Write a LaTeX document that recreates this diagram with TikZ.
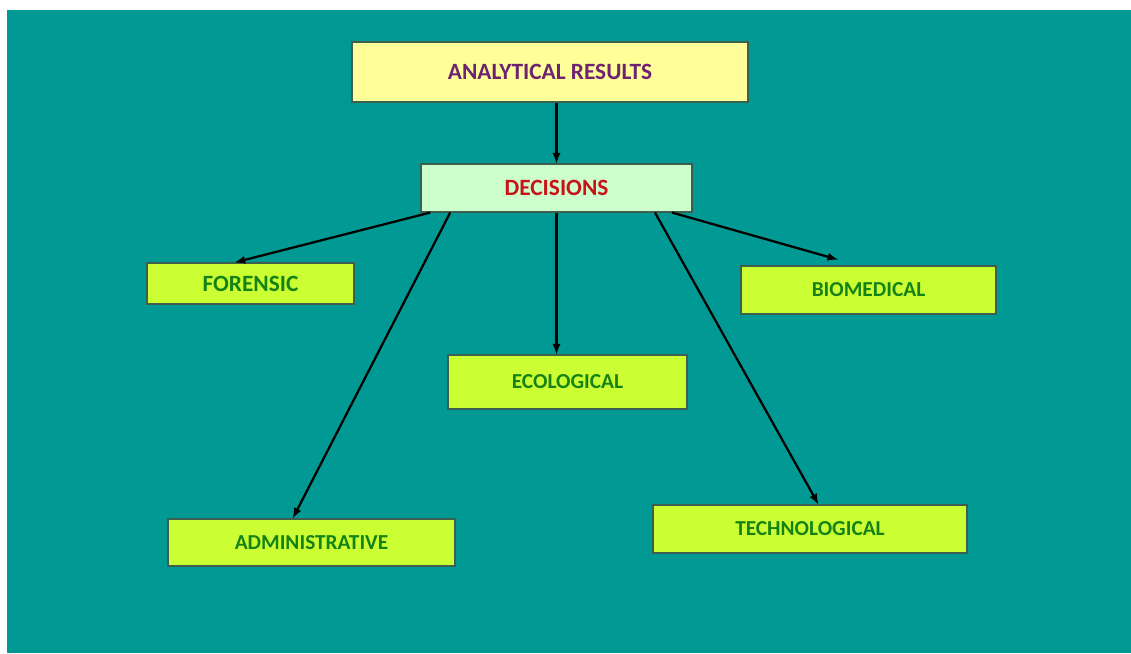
\documentclass[tikz,border=0pt]{standalone}
\usepackage{fontspec}
\setmainfont{Carlito}
\usepackage{xcolor}
\usetikzlibrary{arrows, positioning}

\definecolor{slideteal}{RGB}{0,153,148}
\definecolor{paleyellow}{RGB}{255,255,153}
\definecolor{palegreen}{RGB}{204,255,204}
\definecolor{limegreen}{RGB}{204,255,51}
\definecolor{boxline}{RGB}{60,95,80}
\definecolor{purpletext}{RGB}{110,35,110}
\definecolor{redtext}{RGB}{200,20,25}
\definecolor{greentext}{RGB}{20,130,20}

\tikzset{
    box/.style={draw=boxline, line width=0.8pt, inner sep=0pt, font=\bfseries},
    areabox/.style={box, fill=limegreen, text=greentext, font=\bfseries\fontsize{16}{18}\selectfont},
    link/.style={-latex, line width=1.7pt, black}
}

\begin{document}
\begin{tikzpicture}[x=0.75pt, y=-0.75pt]
                        % page and slide background
                        \fill[white] (0,0) rectangle (1131,653);
                        \fill[slideteal] (7,10) rectangle (1131,653);
                        \useasboundingbox (0,0) rectangle (1131,653);

                        \node[box, fill=paleyellow, text=purpletext, minimum width=297pt, minimum height=45pt,
                              font=\bfseries\fontsize{17.5}{20}\selectfont] (res) at (550,72) {ANALYTICAL RESULTS};
                        \node[box, fill=palegreen, text=redtext, minimum width=203.25pt, minimum height=36pt,
                              font=\bfseries\fontsize{17.5}{20}\selectfont] (dec) at (556.5,188) {DECISIONS};

                        \node[areabox, minimum width=155.25pt, minimum height=30.75pt,
                              font=\bfseries\fontsize{17.5}{20}\selectfont] (for) at (250.5,283.5) {FORENSIC};
                        \node[areabox, minimum width=191.25pt, minimum height=36pt] (bio) at (868.5,290) {BIOMEDICAL};
                        \node[areabox, minimum width=179.25pt, minimum height=40.5pt] (eco) at (567.5,382) {ECOLOGICAL};
                        \node[areabox, minimum width=215.25pt, minimum height=35.25pt] (adm) at (311.5,542.5) {ADMINISTRATIVE};
                        \node[areabox, minimum width=235.5pt, minimum height=36pt] (tec) at (810,529) {TECHNOLOGICAL};

                        \draw[link] (dec.north |- res.south) -- (dec.north);
                        \draw[link] (dec.191.6) -- (for.127);
                        \draw[link] (dec.193.3) -- (adm.128);
                        \draw[link] (dec.south) -- (dec.south |- eco.north);
                        \draw[link] (dec.346) -- (tec.71.6);
                        \draw[link, shorten >=16pt] (dec.348.3) -- (bio.112);
                    \end{tikzpicture}
\end{document}
